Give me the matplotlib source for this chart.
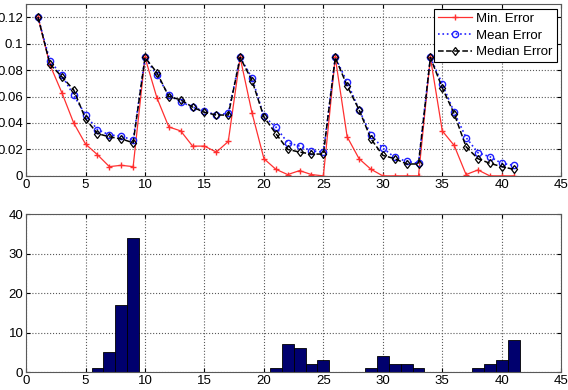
import numpy as np
import matplotlib
matplotlib.use("Agg")
import matplotlib.pyplot as plt

plt.rcParams['font.family'] = ['Liberation Sans', 'DejaVu Sans']

iterations = list(range(1, 42))

min_error = [0.120, 0.084, 0.063, 0.040, 0.024, 0.016, 0.007, 0.008, 0.007,
             0.0895, 0.059, 0.037, 0.034, 0.0225, 0.0225, 0.018, 0.026,
             0.0895, 0.0475, 0.013, 0.005, 0.001, 0.004, 0.001, 0.000,
             0.0895, 0.0295, 0.013, 0.005, 0.000, 0.000, 0.000, 0.000,
             0.0895, 0.034, 0.023, 0.001, 0.0045, 0.000, 0.000, 0.000]

mean_error = [0.120, 0.087, 0.076, 0.061, 0.046, 0.035, 0.031, 0.030, 0.027,
              0.0895, 0.076, 0.061, 0.056, 0.052, 0.049, 0.046, 0.0475,
              0.0895, 0.074, 0.045, 0.037, 0.025, 0.0225, 0.019, 0.018,
              0.0895, 0.071, 0.050, 0.031, 0.021, 0.014, 0.011, 0.0095,
              0.0895, 0.0695, 0.048, 0.029, 0.0175, 0.0145, 0.0095, 0.008]

median_error = [0.120, 0.0845, 0.075, 0.065, 0.043, 0.032, 0.0295, 0.028, 0.025,
                0.0895, 0.078, 0.060, 0.0575, 0.052, 0.048, 0.046, 0.046,
                0.0895, 0.072, 0.0445, 0.032, 0.020, 0.018, 0.0165, 0.0165,
                0.0895, 0.068, 0.050, 0.028, 0.0155, 0.013, 0.009, 0.009,
                0.0895, 0.0665, 0.047, 0.022, 0.013, 0.0095, 0.007, 0.005]

hist_bins = [6, 7, 8, 9, 21, 22, 23, 24, 25, 29, 30, 31, 32, 33, 38, 39, 40, 41]
hist_counts = [1, 5, 17, 34, 1, 7, 6, 2, 3, 1, 4, 2, 2, 1, 1, 2, 3, 8]


def style_axes(ax):
    ax.grid(True, linestyle=':', color='0.35', linewidth=0.8)
    ax.set_axisbelow(True)
    ax.tick_params(direction='in', length=3, labelsize=9.5, pad=2,
                   top=True, right=True)
    for s in ax.spines.values():
        s.set_color('0.35')
        s.set_linewidth(0.8)


fig = plt.figure(figsize=(5.68, 3.90), dpi=100)

ax1 = fig.add_axes([0.046, 0.549, 0.942, 0.441])
ax1.plot(iterations, min_error, color='#ff3030', marker='+', markersize=4,
         linewidth=0.9, label='Min. Error')
ax1.plot(iterations, mean_error, color='#2020ff', linestyle=':', marker='o',
         markersize=4.5, markerfacecolor='none', markeredgewidth=1.0,
         linewidth=1.2, label='Mean Error')
ax1.plot(iterations, median_error, color='black', linestyle='--', marker='d',
         markersize=4.5, markerfacecolor='none', markeredgewidth=0.9,
         linewidth=1.1, label='Median Error')
ax1.set_xlim(0, 45)
ax1.set_ylim(0, 0.13)
ax1.set_yticks([0, 0.02, 0.04, 0.06, 0.08, 0.1, 0.12])
ax1.set_yticklabels(['0', '0.02', '0.04', '0.06', '0.08', '0.1', '0.12'])
ax1.set_xticks(range(0, 46, 5))
style_axes(ax1)
leg = ax1.legend(loc='upper right', fontsize=9.5, fancybox=False, framealpha=1,
                 edgecolor='black', borderpad=0.3, labelspacing=0.35,
                 handlelength=2.6, handletextpad=0.3, borderaxespad=0.35)
leg.get_frame().set_linewidth(0.8)

ax2 = fig.add_axes([0.046, 0.046, 0.942, 0.405])
ax2.bar(hist_bins, hist_counts, width=1.0, color='#00006e',
        edgecolor='black', linewidth=0.6)
ax2.set_xlim(0, 45)
ax2.set_ylim(0, 40)
ax2.set_xticks(range(0, 46, 5))
ax2.set_yticks(range(0, 41, 10))
style_axes(ax2)

fig.savefig('out.png', dpi=100)
